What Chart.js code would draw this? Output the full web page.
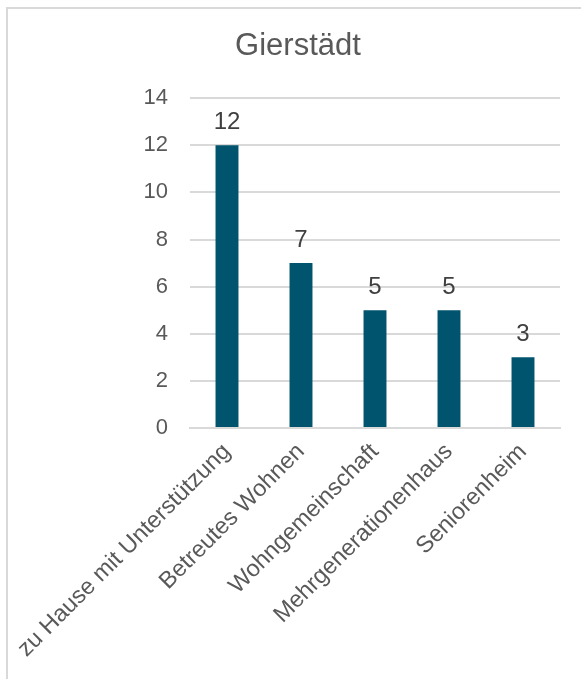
<!DOCTYPE html>
<html>
<head>
<meta charset="utf-8">
<script src="https://cdn.jsdelivr.net/npm/chart.js@4"></script>
<style>
  html, body { margin: 0; padding: 0; background: #fff; }
  #wrap { width: 581px; height: 679px; }
</style>
</head>
<body>
<div id="wrap"><canvas id="chart" width="581" height="679"></canvas></div>
<script>
// Daten aus dem Diagramm
const chartTitle = 'Gierstädt';
const categories = ['zu Hause mit Unterstützung', 'Betreutes Wohnen', 'Wohngemeinschaft', 'Mehrgenerationenhaus', 'Seniorenheim'];
const values = [12, 7, 5, 5, 3];
const yTicks = [0, 2, 4, 6, 8, 10, 12, 14];

const textColor = '#595959';
const gridColor = '#d9d9d9';
const fontFamily = '"Liberation Sans", Arial, sans-serif';

// Rahmen links/oben wie im Original
const framePlugin = {
    id: 'frame',
    beforeDraw(chart) {
        const ctx = chart.ctx;
        ctx.save();
        ctx.strokeStyle = gridColor;
        ctx.lineWidth = 2;
        ctx.beginPath();
        ctx.moveTo(7, chart.height);
        ctx.lineTo(7, 8);
        ctx.lineTo(chart.width, 8);
        ctx.stroke();
        ctx.restore();
    }
};

// Werte über den Balken
const valueLabels = {
    id: 'valueLabels',
    afterDatasetsDraw(chart) {
        const ctx = chart.ctx;
        const meta = chart.getDatasetMeta(0);
        ctx.save();
        ctx.font = '24px ' + fontFamily;
        ctx.fillStyle = '#404040';
        ctx.textAlign = 'center';
        ctx.textBaseline = 'alphabetic';
        meta.data.forEach((bar, i) => {
            ctx.fillText(String(values[i]), bar.x, bar.y - 16);
        });
        ctx.restore();
    }
};

const ctx = document.getElementById('chart').getContext('2d');

new Chart(ctx, {
    type: 'bar',
    data: {
        labels: categories,
        datasets: [{
            data: values,
            backgroundColor: '#00546e',
            categoryPercentage: 1,
            barPercentage: 0.31
        }]
    },
    options: {
        responsive: false,
        animation: false,
        layout: { padding: { left: 36, right: 21, top: 0, bottom: 0 } },
        plugins: {
            legend: { display: false },
            tooltip: { enabled: false },
            title: {
                display: true,
                text: chartTitle,
                color: textColor,
                font: { family: fontFamily, size: 31, weight: 'normal' },
                padding: { top: 28, bottom: 33 }
            }
        },
        scales: {
            x: {
                grid: { display: false, drawTicks: false },
                border: { color: gridColor, width: 2 },
                ticks: {
                    color: textColor,
                    font: { family: fontFamily, size: 23.5 },
                    maxRotation: 45,
                    minRotation: 45,
                    autoSkip: false,
                    padding: 10
                },
                afterFit(scale) {
                    scale.height = 251;
                    // schräge Beschriftung soll die Plotfläche nicht verschieben
                    scale.paddingLeft = 0;
                    scale.paddingRight = 0;
                }
            },
            y: {
                min: 0,
                max: 14,
                afterBuildTicks(scale) { scale.ticks = yTicks.map(v => ({ value: v })); },
                grid: { color: gridColor, lineWidth: 2, drawTicks: false },
                border: { display: false },
                ticks: {
                    color: textColor,
                    font: { family: fontFamily, size: 22 },
                    padding: 22
                },
                afterFit(scale) { scale.width = 154; }
            }
        }
    },
    plugins: [framePlugin, valueLabels]
});
</script>
</body>
</html>
